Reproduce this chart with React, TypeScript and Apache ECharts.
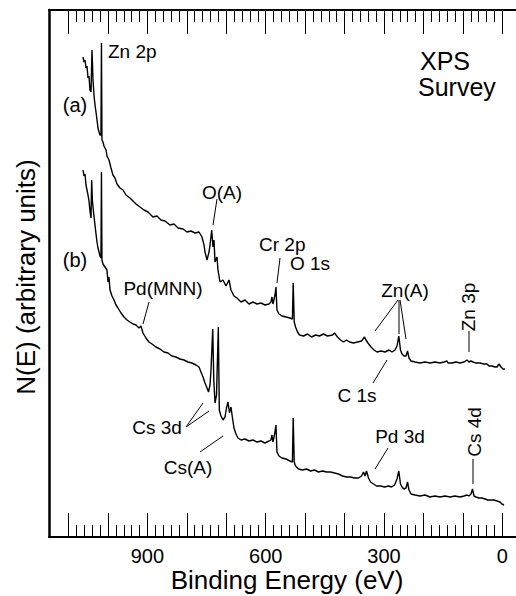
import React, { useEffect, useRef } from "react";
import * as echarts from "echarts";

const FONT = '"Liberation Sans", Arial, Helvetica, sans-serif';

// XPS survey spectra: [binding energy (eV), N(E) (arbitrary units)]
const spectrumA: [number, number][] = [
  [1063.4, 480], [1060.9, 475], [1058.3, 477], [1055.8, 469], [1053.3, 471], [1050.7, 459],
  [1048.2, 461], [1045.7, 447], [1043.1, 445], [1040.6, 487], [1038.0, 457], [1035.5, 442],
  [1033.0, 432], [1030.4, 425], [1027.9, 417], [1025.4, 409], [1022.8, 405], [1020.3, 402],
  [1017.9, 402], [1016.6, 494], [1015.3, 397], [1012.7, 395], [1010.2, 391], [1005.1, 387],
  [1002.6, 381], [997.5, 377], [992.4, 369], [987.4, 362], [982.3, 359], [977.2, 353],
  [969.6, 349], [962.0, 347], [954.4, 342], [944.3, 339], [936.6, 336], [929.0, 333],
  [918.9, 330], [908.7, 327], [898.6, 325], [885.9, 320], [875.8, 321], [865.6, 317],
  [855.5, 316], [842.8, 312], [832.6, 313], [822.5, 309], [809.8, 308], [799.7, 305],
  [789.5, 306], [779.4, 304], [769.2, 305], [761.6, 300], [756.5, 292], [754.0, 285],
  [748.9, 277], [743.8, 285], [741.3, 292], [737.0, 307], [733.7, 290], [731.2, 297],
  [728.6, 275], [723.6, 280], [721.0, 267], [716.0, 255], [708.4, 257], [700.8, 251],
  [693.1, 257], [688.1, 247], [680.5, 241], [672.9, 239], [662.7, 235], [652.6, 237],
  [642.5, 233], [632.3, 235], [622.2, 233], [612.0, 234], [601.9, 232], [591.7, 233],
  [586.7, 235], [584.2, 240], [581.6, 233], [576.5, 242], [574.0, 250], [571.5, 227],
  [566.4, 223], [558.8, 221], [548.6, 220], [538.5, 219], [532.3, 218], [530.3, 254],
  [527.7, 215], [524.4, 210], [519.3, 205], [514.3, 202], [504.1, 201], [494.0, 203],
  [483.8, 200], [473.7, 202], [463.6, 201], [453.4, 203], [443.3, 201], [430.6, 202],
  [425.5, 204], [417.9, 200], [410.3, 197], [402.7, 195], [395.1, 197], [387.5, 195],
  [377.3, 194], [367.2, 195], [357.1, 196], [349.5, 200], [345.7, 197], [340.6, 194],
  [333.0, 190], [325.4, 187], [317.8, 185], [307.6, 186], [297.5, 185], [287.3, 187],
  [279.7, 185], [272.1, 187], [267.0, 191], [262.5, 201], [258.2, 187], [254.4, 183],
  [249.3, 181], [244.2, 181], [240.4, 186], [236.6, 179], [231.5, 176], [221.4, 175],
  [208.7, 174], [196.0, 175], [183.4, 174], [170.7, 175], [158.0, 174], [147.9, 175],
  [140.3, 176], [137.7, 174], [127.6, 174], [117.4, 175], [107.3, 174], [97.1, 175],
  [89.5, 177], [84.5, 175], [79.4, 176], [74.3, 175], [66.7, 174], [56.6, 174],
  [46.4, 173], [38.8, 173], [33.7, 171], [26.1, 171], [18.5, 170], [13.4, 170],
  [8.4, 173], [3.3, 170], [-1.8, 168], [-6.8, 168],
];

const spectrumB: [number, number][] = [
  [1063.4, 367], [1060.9, 361], [1058.3, 363], [1055.8, 352], [1053.3, 347], [1050.7, 342],
  [1048.2, 336], [1045.7, 326], [1043.1, 319], [1041.4, 357], [1039.5, 336], [1037.0, 326],
  [1033.0, 312], [1030.4, 303], [1027.9, 295], [1025.4, 289], [1022.8, 285], [1020.3, 281],
  [1017.9, 279], [1016.6, 365], [1015.3, 277], [1012.7, 273], [1007.6, 270], [1002.6, 267],
  [1000.0, 255], [997.5, 260], [994.9, 247], [989.9, 241], [984.8, 237], [979.7, 232],
  [974.6, 229], [967.0, 224], [959.4, 220], [951.8, 217], [944.3, 215], [936.6, 213],
  [929.0, 212], [921.4, 209], [916.4, 211], [911.3, 204], [903.7, 199], [896.1, 195],
  [888.5, 193], [878.4, 190], [868.2, 188], [858.1, 185], [847.9, 184], [837.8, 181],
  [827.7, 180], [817.5, 178], [807.4, 177], [797.2, 175], [787.1, 174], [777.0, 172],
  [769.2, 170], [764.2, 165], [759.1, 160], [754.0, 154], [748.9, 149], [745.1, 145],
  [741.3, 152], [738.8, 167], [734.4, 208], [731.7, 157], [728.6, 134], [724.8, 142],
  [720.2, 210], [717.7, 127], [713.4, 121], [708.4, 117], [703.3, 120], [699.5, 129],
  [695.7, 135], [691.9, 124], [688.1, 130], [684.3, 119], [680.5, 109], [675.4, 103],
  [670.4, 99], [662.7, 97], [652.6, 98], [642.5, 96], [632.3, 97], [622.2, 95],
  [612.0, 96], [601.9, 94], [591.7, 96], [586.7, 97], [584.2, 102], [581.6, 95],
  [576.5, 105], [574.0, 112], [571.5, 85], [566.4, 81], [558.8, 79], [548.6, 78],
  [538.5, 76], [532.3, 75], [530.3, 119], [527.7, 75], [524.4, 71], [516.8, 68],
  [506.6, 67], [496.5, 68], [486.3, 66], [476.2, 67], [466.1, 65], [455.9, 66],
  [445.8, 65], [435.6, 65], [425.5, 64], [415.4, 63], [405.2, 61], [395.1, 60],
  [384.9, 60], [374.8, 59], [364.6, 59], [357.1, 61], [352.0, 65], [348.2, 61],
  [344.4, 66], [339.3, 59], [334.2, 55], [326.6, 53], [319.0, 51], [308.8, 51],
  [298.7, 50], [288.5, 51], [280.9, 50], [273.3, 52], [267.0, 58], [262.5, 66],
  [258.2, 53], [254.4, 50], [249.3, 48], [244.2, 49], [240.4, 55], [236.6, 47],
  [231.5, 43], [221.4, 42], [208.7, 41], [196.0, 42], [183.4, 40], [170.7, 41],
  [158.0, 40], [145.4, 41], [132.6, 40], [120.0, 41], [107.3, 40], [97.1, 41],
  [89.5, 42], [84.5, 41], [79.4, 43], [75.6, 48], [71.8, 41], [66.7, 40],
  [59.1, 39], [51.5, 39], [43.9, 38], [36.3, 37], [28.7, 37], [21.0, 37],
  [13.4, 36], [5.8, 35], [0.8, 33], [-4.3, 32],
];

// Labelled energy ticks and tick spacing (eV)
const labelledEnergies = [900, 600, 300, 0];
const majorStep = 100;
const minorSplit = 5;
const tickMax = 1100;

// Plot frame (px) and energy scale
const FRAME = { left: 49, right: 516, top: 10, bottom: 537 };
const ZERO_X = 502.3;
const PX_PER_EV = 0.3943;
const COUNT_MAX = FRAME.bottom - FRAME.top;

const txt = (text: string, x: number, y: number, size: number, opts: any = {}) => ({
  type: "text",
  x,
  y,
  rotation: opts.rotation || 0,
  style: {
    text,
    fill: "#000",
    font: `${size}px ${FONT}`,
    fontSize: size,
    fontFamily: FONT,
    textAlign: opts.align || "center",
    align: opts.align || "center",
    textVerticalAlign: "middle",
    verticalAlign: "middle",
  },
});

const seg = (x1: number, y1: number, x2: number, y2: number) => ({
  type: "line",
  shape: { x1, y1, x2, y2 },
  style: { stroke: "#000", lineWidth: 1 },
});

export default function App() {
  const ref = useRef<HTMLDivElement>(null);

  useEffect(() => {
    if (!ref.current) return;
    const chart = echarts.init(ref.current, undefined, { renderer: "svg" });

    const plotW = FRAME.right - FRAME.left;
    const plotH = FRAME.bottom - FRAME.top;
    const eMin = (ZERO_X - FRAME.right) / PX_PER_EV;
    const eMax = (ZERO_X - FRAME.left) / PX_PER_EV;
    const tickLeft = ZERO_X - tickMax * PX_PER_EV;
    const tickW = tickMax * PX_PER_EV;

    const frameAxis = (position: "top" | "bottom") => ({
      type: "value",
      gridIndex: 0,
      position,
      inverse: true,
      min: eMin,
      max: eMax,
      axisLine: { show: true, onZero: false, lineStyle: { color: "#000", width: 2 } },
      axisTick: { show: false },
      axisLabel: { show: false },
      splitLine: { show: false },
    });

    const tickAxis = (position: "top" | "bottom", withLabels: boolean) => ({
      type: "value",
      gridIndex: 1,
      position,
      inverse: true,
      min: 0,
      max: tickMax,
      interval: majorStep,
      axisLine: { show: false, onZero: false },
      axisTick: { show: true, inside: true, length: 24, lineStyle: { color: "#000", width: 1 } },
      minorTick: {
        show: true,
        splitNumber: minorSplit,
        length: 12,
        lineStyle: { color: "#000", width: 1 },
      },
      axisLabel: {
        show: withLabels,
        margin: 9,
        color: "#000",
        fontSize: 20,
        fontFamily: FONT,
        formatter: (v: number) => (labelledEnergies.includes(Math.round(v)) ? String(Math.round(v)) : ""),
      },
      splitLine: { show: false },
    });

    chart.setOption({
      animation: false,
      backgroundColor: "#fff",
      grid: [
        { left: FRAME.left, top: FRAME.top, width: plotW, height: plotH },
        { left: tickLeft, top: FRAME.top, width: tickW, height: plotH },
      ],
      xAxis: [
        frameAxis("bottom"),
        frameAxis("top"),
        tickAxis("bottom", true),
        tickAxis("top", false),
      ],
      yAxis: [
        {
          type: "value",
          gridIndex: 0,
          min: 0,
          max: COUNT_MAX,
          axisLine: { show: true, onZero: false, lineStyle: { color: "#000", width: 2.5 } },
          axisTick: { show: false },
          axisLabel: { show: false },
          splitLine: { show: false },
        },
        { type: "value", gridIndex: 1, min: 0, max: 1, show: false },
      ],
      series: [
        {
          name: "(a)",
          type: "line",
          xAxisIndex: 0,
          yAxisIndex: 0,
          data: spectrumA,
          showSymbol: false,
          lineStyle: { color: "#000", width: 1.4 },
        },
        {
          name: "(b)",
          type: "line",
          xAxisIndex: 0,
          yAxisIndex: 0,
          data: spectrumB,
          showSymbol: false,
          lineStyle: { color: "#000", width: 1.4 },
        },
      ],
      graphic: [
        txt("N(E) (arbitrary units)", 26, 277, 26, { rotation: Math.PI / 2 }),
        txt("Binding Energy (eV)", 287, 580, 26),
        txt("XPS", 420, 61, 25, { align: "left" }),
        txt("Survey", 418, 87, 25, { align: "left" }),
        txt("(a)", 75, 105, 20),
        txt("(b)", 75, 260, 20),
        txt("Zn 2p", 108, 51, 19, { align: "left" }),
        txt("O(A)", 222, 192, 19),
        seg(217, 199, 213, 225),
        txt("Cr 2p", 259, 244, 19, { align: "left" }),
        seg(280, 258, 277, 283),
        txt("O 1s", 290, 263, 19, { align: "left" }),
        txt("Pd(MNN)", 163, 288, 19),
        seg(149, 302, 143, 324),
        txt("Zn(A)", 405, 290, 19),
        seg(398, 300, 375, 331),
        seg(399, 300, 399, 334),
        seg(400, 300, 406, 339),
        txt("Zn 3p", 468, 307, 19, { rotation: Math.PI / 2 }),
        seg(469, 331, 469, 352),
        txt("C 1s", 357, 395, 19),
        seg(387, 360, 373, 383),
        txt("Cs 3d", 157, 427, 19),
        seg(186, 427, 203, 403),
        seg(186, 427, 209, 411),
        txt("Cs(A)", 188, 467, 19),
        seg(200, 452, 223, 436),
        txt("Pd 3d", 400, 436, 19),
        seg(388, 448, 375, 469),
        txt("Cs 4d", 474, 432, 19, { rotation: Math.PI / 2 }),
        seg(473, 459, 473, 484),
      ],
    });

    return () => chart.dispose();
  }, []);

  return (
    <div
      ref={ref}
      style={{ position: "absolute", left: 0, top: 0, width: 516, height: 596 }}
    />
  );
}
